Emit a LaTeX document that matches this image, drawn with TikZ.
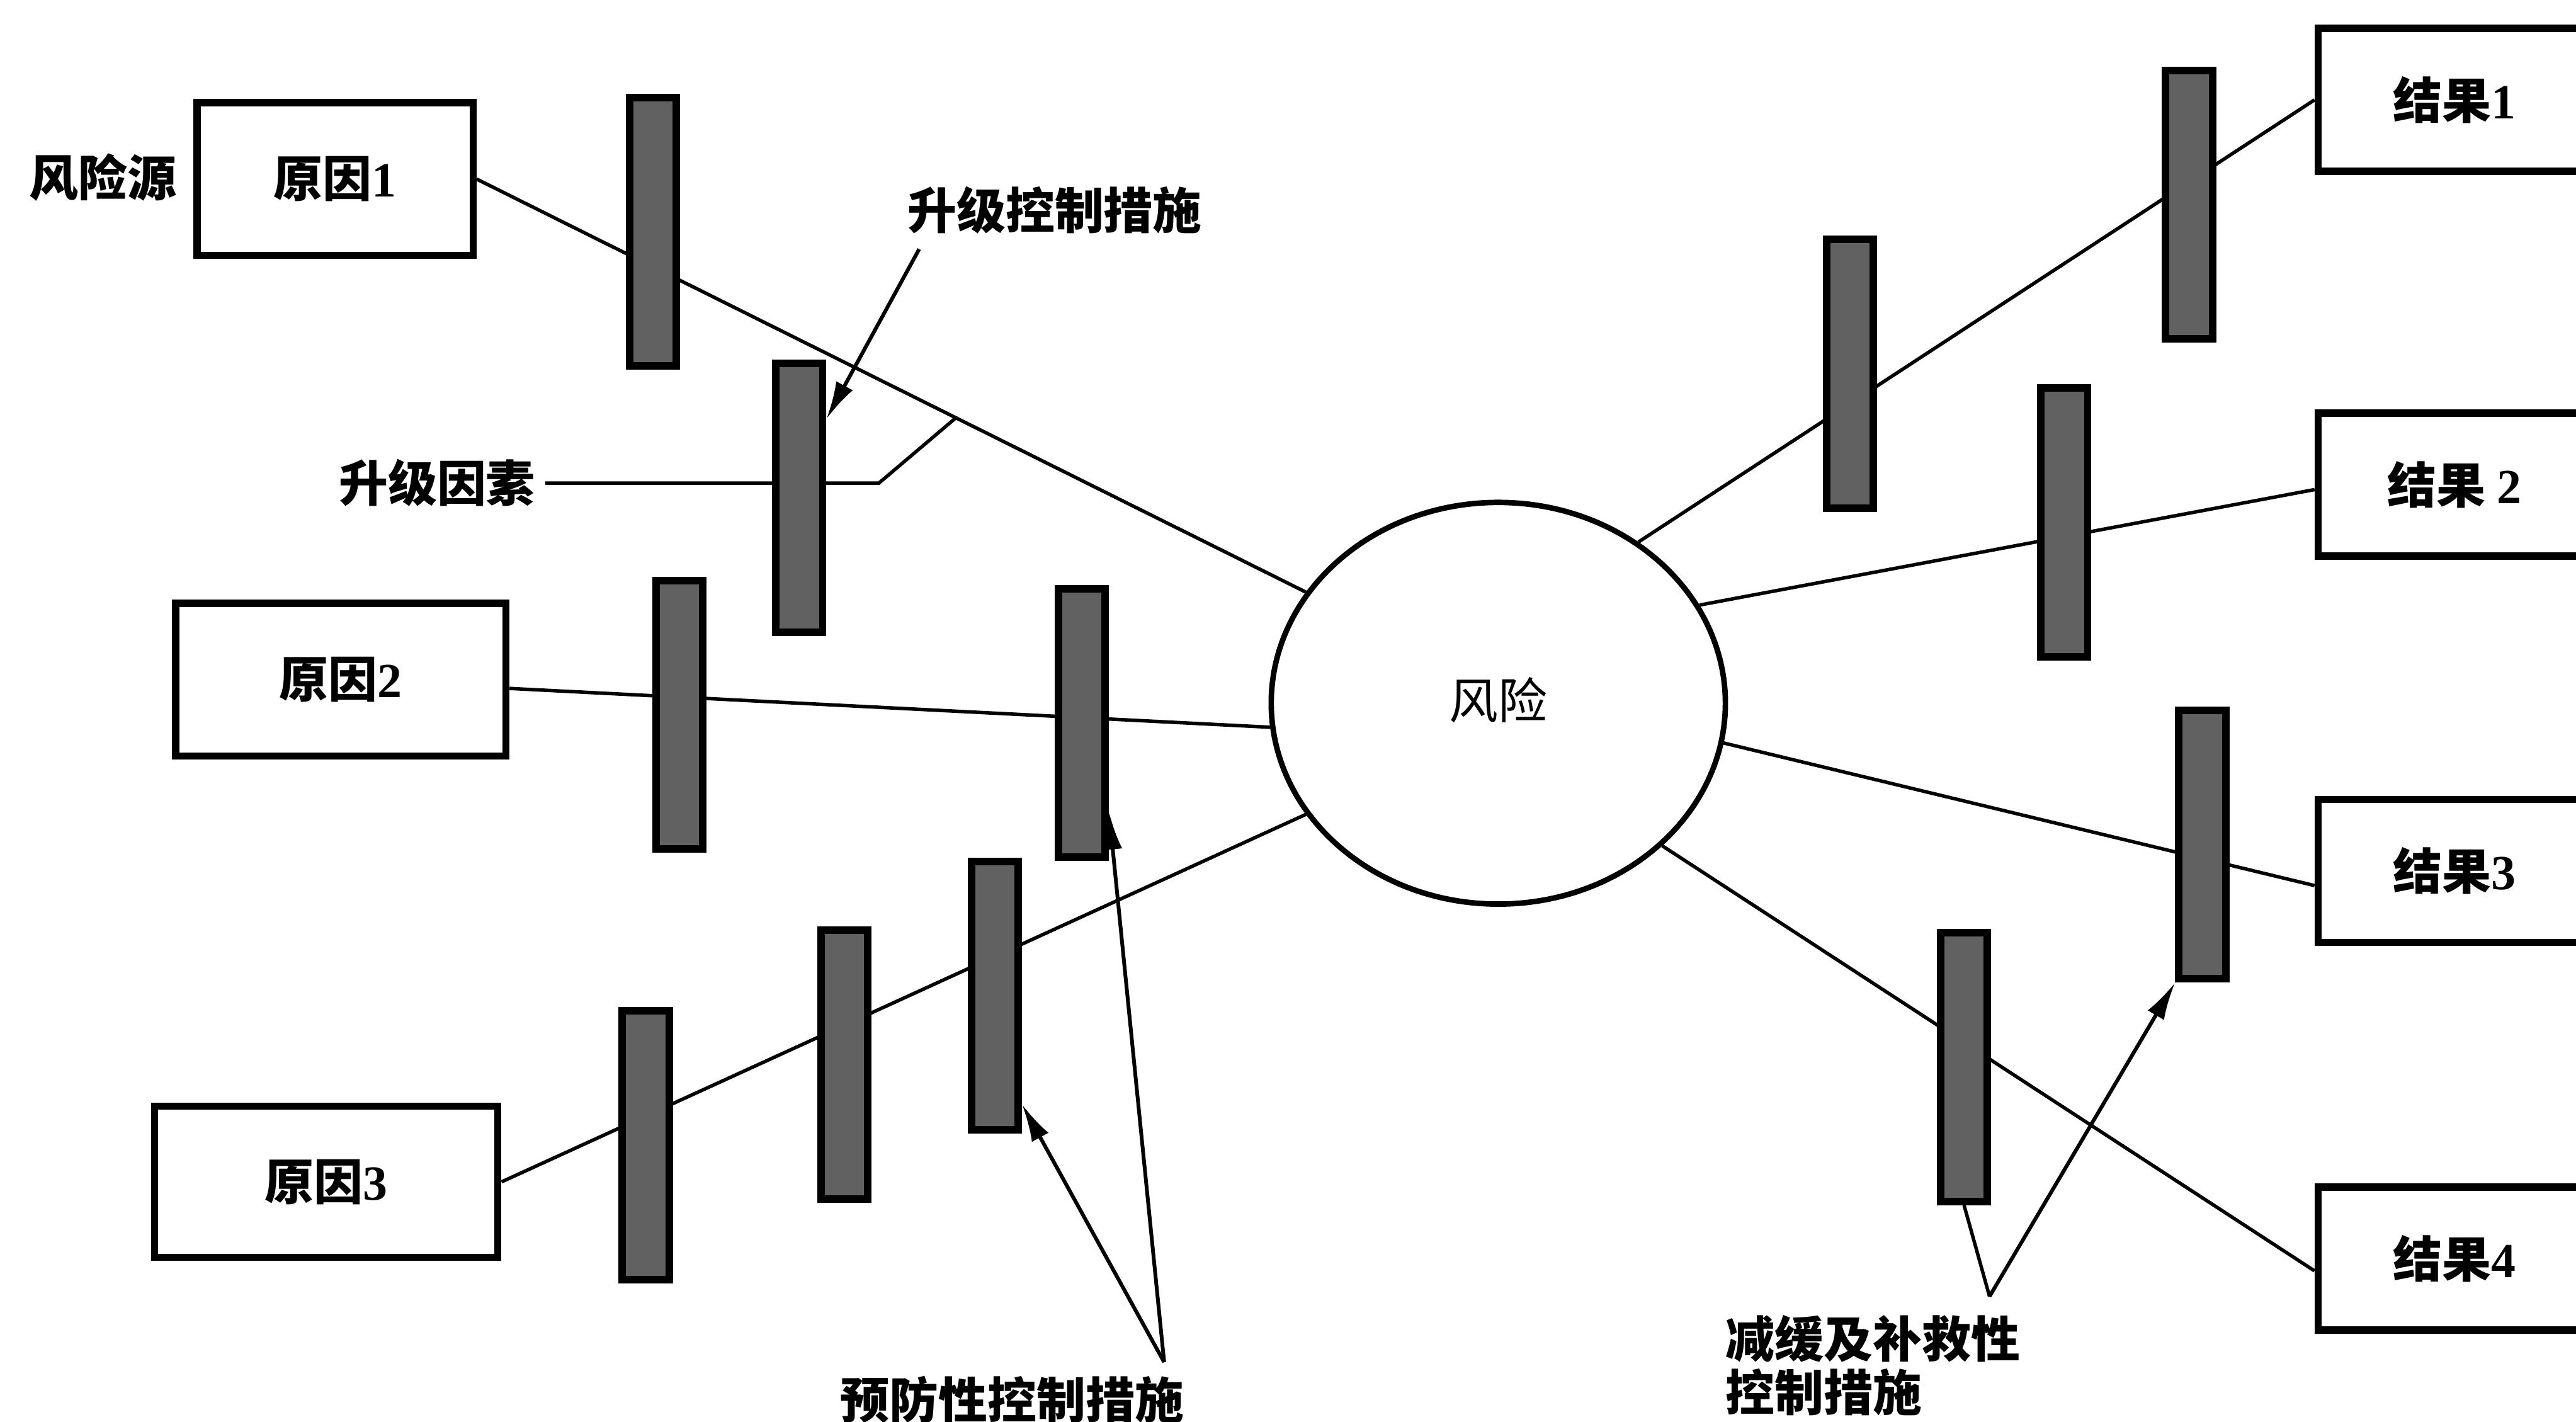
\documentclass[tikz,border=0pt]{standalone}
\usepackage{fontspec}
\setmainfont{Liberation Serif}
\newfontfamily\cjk{Noto Sans CJK SC}
\usetikzlibrary{shapes.geometric,positioning,calc,arrows.meta,backgrounds}

\begin{document}
\begin{tikzpicture}[x=0.02cm,y=-0.02cm,
  evt/.style={draw=black,line width=2.5pt,fill=white,minimum height=1.86cm,font=\cjk\bfseries\fontsize{17}{20}\selectfont},
  res/.style={evt,minimum width=3.32cm,minimum height=1.74cm},
  ctl/.style={draw=black,line width=2.6pt,fill=black!62,minimum width=0.57cm,minimum height=3.27cm,inner sep=0pt},
  hub/.style={ellipse,draw=black,line width=1.9pt,fill=white,minimum width=5.53cm,minimum height=4.89cm,font=\cjk\fontsize{17}{20}\selectfont},
  desc/.style={font=\cjk\bfseries\fontsize{17}{18.4}\selectfont},
  link/.style={line width=1.2pt},
  arr/.style={line width=1.3pt,-{Latex[length=4.6mm,width=2.3mm]}}
]
\useasboundingbox (0,0) rectangle (1568,865.4);

% causes, risk, results
\node [evt,minimum width=3.36cm] (c1) at (204,109) {原因{\rmfamily 1}};
\node [evt,minimum width=4.02cm] (c2) at (207.5,413.6) {原因{\rmfamily 2}};
\node [evt,minimum width=4.18cm,minimum height=1.84cm] (c3) at (198.6,719.3) {原因{\rmfamily 3}};
\node [hub] (risk) at (912,428) {\raisebox{0.12cm}{风险}};
\node [res] (e1) at (1494,60.8) {结果{\rmfamily 1}};
\node [res] (e2) at (1494,295) {结果 {\rmfamily 2}};
\node [res] (e3) at (1494,530) {结果{\rmfamily 3}};
\node [res] (e4) at (1494,766) {结果{\rmfamily 4}};

% control bars
\node [ctl] (b1) at (397.5,141) {};
\node [ctl] (b2) at (486.5,303) {};
\node [ctl] (b3) at (413.5,435) {};
\node [ctl] (b4) at (658.5,440) {};
\node [ctl] (b5) at (393,697) {};
\node [ctl] (b6) at (514,648) {};
\node [ctl] (b7) at (605.5,606) {};
\node [ctl] (b8) at (1126,227.5) {};
\node [ctl] (b9) at (1332.5,124.5) {};
\node [ctl] (b10) at (1256.5,318) {};
\node [ctl] (b11) at (1340.5,514) {};
\node [ctl] (b12) at (1195.5,649.5) {};

% labels
\node [desc] (src) at (62.5,108) {风险源};
\node [desc] (ec) at (642,128) {升级控制措施};
\node [desc] (ef) at (266,294) {升级因素};
\node [desc] (pc) at (616,852) {预防性控制措施};
\node [desc,align=left,anchor=west,inner sep=0pt] (mc) at (1050,831) {减缓及补救性\\控制措施};

\coordinate (efbend) at (535,294);
\coordinate (efend) at ($(c1.east)!0.578!(risk.150.3)$);
\coordinate (ecstart) at (559.5,151.6);
\coordinate (pcfork) at (708.6,829);
\coordinate (mcfork) at (1211,789);

\begin{scope}[on background layer]
  \draw [link] (c1.east) -- (risk.150.3);
  \draw [link] (c2.357) -- (risk.186.5);
  \draw [link] (c3.east) -- (risk.210.4);
  \draw [link] (risk.49.6) -- (e1.west);
  \draw [link] (risk.26.3) -- (e2.182);
  \draw [link] (risk.350.2) -- (e3.186);
  \draw [link] (risk.319.7) -- (e4.185);
  \draw [link] (ef.east) -- (efbend) -- (efend);
\end{scope}

% pointers
\draw [arr] (ecstart) -- ($(b2.east)+(0,-48)$);
\draw [arr] (pcfork) -- ($(b4.south east)+(0,-30)$);
\draw [arr] (pcfork) -- ($(b7.south east)+(0,-18)$);
\draw [link] (mcfork) -- (b12.south);
\draw [arr] (mcfork) -- (b11.south west);
\end{tikzpicture}
\end{document}
